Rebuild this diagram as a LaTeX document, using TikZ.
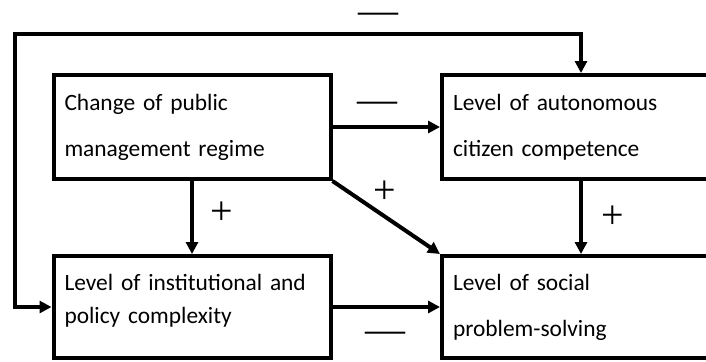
\documentclass[tikz,border=0pt]{standalone}
\usepackage{fontspec}
\setmainfont{Carlito}
\newfontfamily\signfont{Liberation Serif}
\usetikzlibrary{arrows.meta,positioning}

\begin{document}
\begin{tikzpicture}[x=0.5pt,y=-0.5pt,
  box/.style={draw,line width=2pt,inner xsep=5.5pt,align=left,font=\fontsize{11.7}{23}\selectfont},
  link/.style={-{Triangle[length=6pt,width=6pt]},line width=2pt},
  plussign/.style={font=\signfont\fontsize{20}{20}\selectfont,inner sep=0pt},
  minussign/.style={font=\signfont\fontsize{20}{20}\selectfont,inner sep=0pt}]
  \useasboundingbox (0,0) rectangle (706,361);
  \node[box,text width=127.5pt,minimum height=52pt] (chg) at (192,127) {Change of public\\management regime};
  \node[box,text width=128pt,minimum height=52pt] (aut) at (581,127) {Level of autonomous\\citizen competence};
  \node[box,text width=127.5pt,minimum height=51pt,text depth=25pt,font=\fontsize{11.7}{16.5}\selectfont] (inst) at (192,307) {Level of institutional and\\policy complexity};
  \node[box,text width=128pt,minimum height=51pt] (soc) at (581,307) {Level of social\\problem-solving};
  \coordinate (fb) at (15,34);
  \draw[link] (chg) -- (aut);
  \draw[link] (chg) -- (inst);
  \draw[link] (chg.south east) -- (soc.north west);
  \draw[link] (aut) -- (soc);
  \draw[link] (inst) -- (soc);
  \draw[link,{Triangle[length=6pt,width=6pt]}-{Triangle[length=6pt,width=6pt]}] (inst.west) -| (fb) -| (aut.north);
  \node[minussign] (s1) at (378,18) {—};
  \node[minussign] (s2) at (377,107) {—};
  \node[plussign] (s3) at (385,192) {+};
  \node[plussign] (s4) at (222,213) {+};
  \node[plussign] (s5) at (613,217) {+};
  \node[minussign] (s6) at (385,337) {—};
\end{tikzpicture}
\end{document}
